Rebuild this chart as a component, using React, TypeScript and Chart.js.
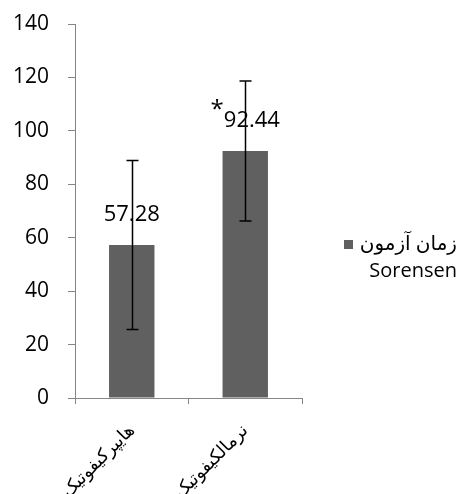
import React, { useEffect, useRef } from "react";
import { Chart, registerables } from "chart.js";

Chart.register(...registerables);

const categories = ["هایپرکیفوتیک", "نرمالکیفوتیک"];
const values = [57.28, 92.44];
const errors = [31.6, 26.2];
const markers = ["", "*"];
const yTicks = [0, 20, 40, 60, 80, 100, 120, 140];
const legendLine1 = "زمان آزمون";
const legendLine2 = "Sorensen";

const FONT = "'Open Sans', 'DejaVu Sans', sans-serif";
const BAR_COLOR = "#606060";
const AXIS_COLOR = "#868686";

const overlayPlugin = {
  id: "overlay",
  afterDatasetsDraw(chart: any) {
    const ctx = chart.ctx;
    const meta = chart.getDatasetMeta(0);
    const y = chart.scales.y;
    ctx.save();
    // data labels
    meta.data.forEach((bar: any, i: number) => {
      const cx = bar.x;
      const cy = bar.y - 30;
      ctx.font = `22px ${FONT}`;
      ctx.fillStyle = "#000";
      ctx.textBaseline = "middle";
      const txt = values[i].toFixed(2);
      const w = ctx.measureText(txt).width;
      const m = markers[i];
      let mw = 0;
      if (m) {
        ctx.font = `24px ${FONT}`;
        mw = ctx.measureText(m).width;
      }
      const start = cx - (w + mw) / 2;
      if (m) {
        ctx.textAlign = "left";
        ctx.font = `24px ${FONT}`;
        ctx.fillText(m, start, cy - 11);
      }
      ctx.font = `22px ${FONT}`;
      ctx.textAlign = "left";
      ctx.fillText(txt, start + mw, cy);
    });
    // error bars
    ctx.strokeStyle = "#000";
    ctx.lineWidth = 1.5;
    meta.data.forEach((bar: any, i: number) => {
      const x = Math.round(bar.x) + 0.5;
      const top = y.getPixelForValue(values[i] + errors[i]);
      const bot = y.getPixelForValue(values[i] - errors[i]);
      ctx.beginPath();
      ctx.moveTo(x, top);
      ctx.lineTo(x, bot);
      ctx.moveTo(x - 6, top);
      ctx.lineTo(x + 6, top);
      ctx.moveTo(x - 6, bot);
      ctx.lineTo(x + 6, bot);
      ctx.stroke();
    });
    // legend
    ctx.fillStyle = BAR_COLOR;
    ctx.fillRect(344, 240, 9, 9);
    ctx.fillStyle = "#000";
    ctx.font = `20px ${FONT}`;
    ctx.textAlign = "right";
    ctx.textBaseline = "middle";
    ctx.fillText(legendLine1, 457, 244);
    ctx.fillText(legendLine2, 457, 271);
    ctx.restore();
  },
};

export default function App() {
  const ref = useRef<HTMLCanvasElement | null>(null);
  useEffect(() => {
    if (!ref.current) return;
    Chart.defaults.font.family = FONT;
    const chart = new Chart(ref.current, {
      type: "bar",
      data: {
        labels: categories,
        datasets: [
          {
            label: legendLine1 + " " + legendLine2,
            data: values,
            backgroundColor: BAR_COLOR,
            categoryPercentage: 1,
            barPercentage: 0.4,
          },
        ],
      },
      options: {
        animation: false,
        responsive: false,
        maintainAspectRatio: false,
        layout: { padding: { left: 0, right: 157, top: 24, bottom: 0 } },
        plugins: { legend: { display: false }, tooltip: { enabled: false } },
        scales: {
          y: {
            min: 0,
            max: 140,
            afterBuildTicks: (s: any) => {
              s.ticks = yTicks.map((v) => ({ value: v }));
            },
            afterFit: (s: any) => {
              s.width = 75;
              s.paddingTop = 12;
              s.paddingBottom = 12;
            },
            ticks: { color: "#000", font: { size: 21 }, padding: 19 },
            grid: { drawOnChartArea: false, tickLength: 7, color: AXIS_COLOR },
            border: { color: AXIS_COLOR, width: 1 },
          },
          x: {
            afterFit: (s: any) => {
              s.height = 96;
            },
            ticks: {
              color: "#000",
              font: { size: 18 },
              minRotation: 45,
              maxRotation: 45,
              autoSkip: false,
              padding: 16,
            },
            grid: { drawOnChartArea: false, tickLength: 6, color: AXIS_COLOR, offset: true },
            border: { color: AXIS_COLOR, width: 1 },
          },
        },
      },
      plugins: [overlayPlugin],
    });
    return () => chart.destroy();
  }, []);
  return (
    <div style={{ position: "fixed", left: 0, top: 0, width: 459, height: 494, background: "#fff" }}>
      <canvas ref={ref} width={459} height={494} style={{ width: 459, height: 494, display: "block" }} />
    </div>
  );
}
